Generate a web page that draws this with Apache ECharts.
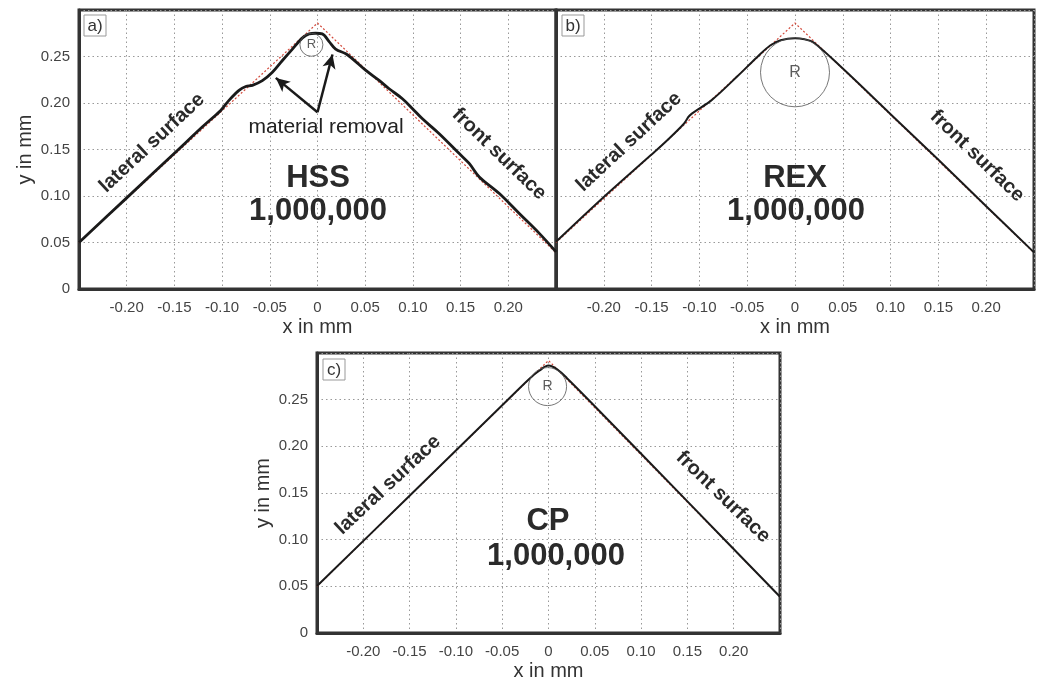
<!DOCTYPE html>
<html>
<head>
<meta charset="utf-8">
<script src="https://cdn.jsdelivr.net/npm/echarts@6/dist/echarts.min.js"></script>
<style>
html,body{margin:0;padding:0;background:#fff;}
#main{width:1038px;height:682px;}
</style>
</head>
<body>
<div id="main"></div>
<script>
// ---- data ----
const xTicks = [-0.25, -0.20, -0.15, -0.10, -0.05, 0, 0.05, 0.10, 0.15, 0.20, 0.25];
const yTicks = [0, 0.05, 0.10, 0.15, 0.20, 0.25, 0.30];

// reference (ideal) tool profiles: red dotted
const refAX = [-0.25, 0, 0.25];
const refAY = [0.050, 0.286, 0.039];
const refBX = [-0.25, 0, 0.25];
const refBY = [0.050, 0.286, 0.039];
const refCX = [-0.25, 0, 0.25];
const refCY = [0.050, 0.292, 0.039];

// measured profiles: black
const hssX = [-0.25, -0.20, -0.15, -0.12, -0.1015, -0.0928, -0.0823, -0.0752, -0.0683, -0.0578, -0.0473, -0.0368, -0.0263, -0.0158, -0.0088, -0.002, 0.005, 0.0122, 0.019, 0.0297, 0.0367, 0.0507, 0.0646, 0.0751, 0.089, 0.0996, 0.110, 0.1276, 0.1486, 0.159, 0.1696, 0.1906, 0.2115, 0.2325, 0.25];
const hssY = [0.050, 0.098, 0.146, 0.175, 0.192, 0.2028, 0.2135, 0.2178, 0.219, 0.224, 0.233, 0.2457, 0.258, 0.270, 0.2743, 0.275, 0.2743, 0.266, 0.258, 0.2529, 0.2475, 0.235, 0.2243, 0.2153, 0.2046, 0.1939, 0.183, 0.167, 0.1456, 0.135, 0.1205, 0.1027, 0.0812, 0.0598, 0.040];

const rexX = [-0.25, -0.20, -0.151, -0.1336, -0.116, -0.110, -0.0875, -0.06, -0.04, -0.026, -0.015, 0, 0.01, 0.0192, 0.05, 0.10, 0.15, 0.20, 0.25];
const rexY = [0.0508, 0.099, 0.1438, 0.160, 0.178, 0.1867, 0.2028, 0.229, 0.249, 0.2618, 0.2675, 0.2697, 0.2685, 0.2654, 0.237, 0.188, 0.139, 0.089, 0.0394];

const cpX = [-0.25, -0.15, -0.05, -0.02, -0.01, 0, 0.01, 0.02, 0.05, 0.15, 0.25];
const cpY = [0.0503, 0.147, 0.244, 0.273, 0.281, 0.2865, 0.282, 0.273, 0.243, 0.141, 0.0388];

// radius circles (centre in data coords)
const circA = [-0.0064, 0.2626];
const circB = [0.0, 0.233];
const circC = [-0.001, 0.264];

// arrows "material removal" (panel a)
const arrowStart = [0.0, 0.190];
const arrowTip1 = [-0.0437, 0.227];
const arrowTip2 = [0.0157, 0.2522];

const panelLabels = ['a)', 'b)', 'c)'];
const toolNames = ['HSS', 'REX', 'CP'];
const cycles = '1,000,000';

// ---- build ----
const zip = (xs, ys) => xs.map((x, i) => [x, ys[i]]);
const FONT = "'Liberation Sans', Arial, sans-serif";

const grids = [
  {left: 79, top: 10, width: 477, height: 279},
  {left: 556, top: 10, width: 478, height: 279},
  {left: 317, top: 353, width: 463, height: 280}
];

function fmt(v) {
  if (Math.abs(v) < 1e-9) return '0';
  return v.toFixed(2);
}

const xAxes = grids.map((g, i) => ({
  type: 'value', gridIndex: i, min: xTicks[0], max: xTicks[xTicks.length - 1], interval: 0.05,
  name: 'x in mm', nameLocation: 'middle', nameGap: 28,
  nameTextStyle: {fontFamily: FONT, fontSize: 20, color: '#333'},
  axisLine: {show: true, onZero: false, lineStyle: {color: '#333', width: 3}},
  axisTick: {show: false},
  axisLabel: {fontFamily: FONT, fontSize: 15, color: '#444', margin: 11, formatter: fmt, showMinLabel: false, showMaxLabel: false},
  splitLine: {show: true, lineStyle: {color: '#999', type: [1.5, 3], width: 1}}
}));

const yAxes = grids.map((g, i) => ({
  type: 'value', gridIndex: i, min: yTicks[0], max: yTicks[yTicks.length - 1], interval: 0.05,
  name: i === 1 ? '' : 'y in mm', nameLocation: 'middle', nameGap: 44,
  nameTextStyle: {fontFamily: FONT, fontSize: 20, color: '#333'},
  axisLine: {show: true, onZero: false, lineStyle: {color: '#333', width: 3}},
  axisTick: {show: false},
  axisLabel: {show: i !== 1, fontFamily: FONT, fontSize: 15, color: '#444', margin: 9, formatter: fmt, showMaxLabel: false},
  splitLine: {show: true, lineStyle: {color: '#999', type: [1.5, 3], width: 1}}
}));

function refSeries(i, xs, ys) {
  return {type: 'line', xAxisIndex: i, yAxisIndex: i, data: zip(xs, ys), symbol: 'none', silent: true,
    lineStyle: {color: '#d2483a', width: 1.2, type: [2, 2]}, z: 3};
}
function profSeries(i, xs, ys, w) {
  return {type: 'line', xAxisIndex: i, yAxisIndex: i, data: zip(xs, ys), symbol: 'none', smooth: 0.35, silent: true,
    lineStyle: {color: '#1a1a1a', width: w}, z: 4};
}
function circleSeries(i, c, size, fs) {
  return {type: 'scatter', xAxisIndex: i, yAxisIndex: i, data: [c], symbol: 'circle', symbolSize: size, silent: true,
    itemStyle: {color: 'rgba(255,255,255,0)', borderColor: '#555', borderWidth: 1},
    label: {show: true, position: 'inside', formatter: 'R', fontFamily: FONT, fontSize: fs, color: '#333'}, z: 5};
}

const series = [
  refSeries(0, refAX, refAY),
  Object.assign(profSeries(0, hssX, hssY, 2.8), {
    markLine: {
      silent: true, symbol: ['none', 'arrow'], symbolSize: [10, 14],
      label: {show: false},
      lineStyle: {color: '#1a1a1a', width: 2.5, type: 'solid'},
      data: [
        [{coord: arrowStart}, {coord: arrowTip1}],
        [{coord: arrowStart}, {coord: arrowTip2}]
      ]
    }
  }),
  circleSeries(0, circA, 23, 13),
  refSeries(1, refBX, refBY),
  profSeries(1, rexX, rexY, 2),
  circleSeries(1, circB, 69, 16),
  refSeries(2, refCX, refCY),
  profSeries(2, cpX, cpY, 2),
  circleSeries(2, circC, 38, 14)
];

// annotations (pixel layout)
const boldText = (x, y, text, size, rot) => ({
  type: 'text', x: x, y: y, rotation: (rot || 0) * Math.PI / 180, z: 10,
  style: {text: text, fontFamily: FONT, fontWeight: 'bold', fontSize: size, fill: '#2a2a2a', align: 'center', verticalAlign: 'middle'}
});
const panelBox = (x, y, text) => ({
  type: 'group', x: x, y: y, z: 10,
  children: [
    {type: 'rect', shape: {x: 0, y: 0, width: 22, height: 21}, style: {fill: '#fff', stroke: '#999', lineWidth: 1}},
    {type: 'text', x: 11, y: 11, style: {text: text, fontFamily: FONT, fontSize: 17, fill: '#333', align: 'center', verticalAlign: 'middle'}}
  ]
});

const graphic = [
  panelBox(84, 15, panelLabels[0]),
  panelBox(562, 15, panelLabels[1]),
  panelBox(323, 359, panelLabels[2]),
  boldText(318, 178, toolNames[0], 31),
  boldText(318, 211, cycles, 31),
  boldText(795, 178, toolNames[1], 31),
  boldText(796, 211, cycles, 31),
  boldText(548, 521, toolNames[2], 31),
  boldText(556, 556, cycles, 31),
  boldText(152, 143, 'lateral surface', 20, 43),
  boldText(499, 154, 'front surface', 20, -44),
  boldText(629, 142, 'lateral surface', 20, 43),
  boldText(977, 156, 'front surface', 20, -44),
  boldText(388, 485, 'lateral surface', 20, 43),
  boldText(723, 497, 'front surface', 20, -44),
  {type: 'text', x: 326, y: 127, z: 10,
   style: {text: 'material removal', fontFamily: FONT, fontSize: 21, fill: '#222', align: 'center', verticalAlign: 'middle'}}
];

const chart = echarts.init(document.getElementById('main'), null, {renderer: 'canvas'});
chart.setOption({
  backgroundColor: '#fff',
  animation: false,
  grid: grids.map(g => Object.assign({show: true, borderColor: '#333', borderWidth: 3, backgroundColor: '#fff'}, g)),
  xAxis: xAxes,
  yAxis: yAxes,
  series: series,
  graphic: graphic
});
</script>
</body>
</html>
